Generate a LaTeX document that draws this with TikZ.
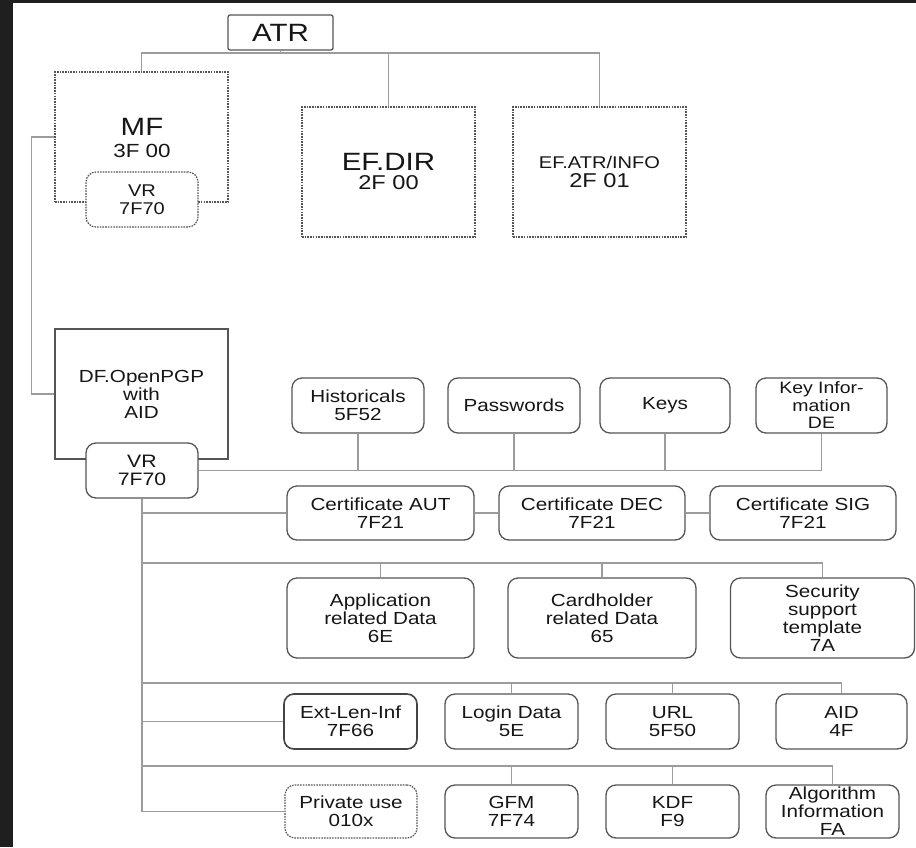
\documentclass[tikz,border=0pt]{standalone}
\usepackage{fontspec}
\setmainfont{Liberation Sans}[FakeStretch=1.18]
\definecolor{linec}{HTML}{9C9C9C}
\definecolor{boxc}{HTML}{555555}
\definecolor{textc}{HTML}{161616}
\definecolor{darkbg}{HTML}{1F1F1F}
\newcommand\fs{\fontsize{17.5}{18}\selectfont}
\tikzset{
  box/.style={draw=boxc, line width=1.3pt, fill=white, text=textc, align=center, inner sep=0pt, font=\fs},
  rbox/.style={box, rounded corners=10pt},
  dashbox/.style={box, dash pattern=on 1.6pt off 1.1pt, line width=1.2pt},
  conn/.style={draw=linec, line width=1.4pt},
  lbl/.style={text=textc, inner sep=0pt},
}
\begin{document}
\begin{tikzpicture}[x=1pt, y=-1pt]
\useasboundingbox (0,0) rectangle (916,847);
\fill[darkbg] (0,0) rectangle (916,847);
\fill[white] (13,3) rectangle (916,847);

% top level
\node[box, rounded corners=2pt, minimum width=105, minimum height=35, font=\fontsize{25}{25}\selectfont] (atr) at (280.5,32.5) {ATR};
\node[dashbox, minimum width=173, minimum height=130] (mf) at (141.5,137) {};
\node[lbl, font=\fontsize{25}{25}\selectfont] (mft) at (142,127) {MF};
\node[lbl, font=\fontsize{19}{19}\selectfont] (mfc) at (142,151) {3F 00};
\node[rbox, dash pattern=on 1.6pt off 1.1pt, line width=1.2pt, minimum width=112, minimum height=55, font=\fontsize{17}{18}\selectfont] (vra) at (142,199.5) {VR\\7F70};

\node[dashbox, minimum width=173, minimum height=130] (efdir) at (388.5,172) {};
\node[lbl, font=\fontsize{25}{25}\selectfont] (efdirt) at (388.5,162) {EF.DIR};
\node[lbl, font=\fontsize{20}{20}\selectfont] (efdirc) at (388.5,183) {2F 00};

\node[dashbox, minimum width=173, minimum height=130] (efatr) at (599.5,172) {};
\node[lbl, font=\fontsize{17}{17}\selectfont] (efatrt) at (599.5,162) {EF.ATR/INFO};
\node[lbl, font=\fontsize{20}{20}\selectfont] (efatrc) at (599.5,181) {2F 01};

% DF
\node[box, minimum width=173, minimum height=130] (df) at (141.5,394) {DF.OpenPGP\\with\\AID};
\node[rbox, minimum width=112, minimum height=55, font=\fontsize{18}{18}\selectfont] (vrb) at (142,470.5) {VR\\7F70};

% row 1
\node[rbox, minimum width=132, minimum height=55] (hist) at (358,405.5) {Historicals\\5F52};
\node[rbox, minimum width=132, minimum height=55] (pass) at (514,405.5) {Passwords};
\node[rbox, minimum width=130, minimum height=55] (keys) at (665,405.5) {Keys};
\node[rbox, minimum width=131, minimum height=55, font=\fontsize{16.5}{17.5}\selectfont] (kinfo) at (821.5,405.5) {Key Infor-\\mation\\DE};

% row 2
\node[rbox, minimum width=187, minimum height=54] (caut) at (380.5,513) {Certificate AUT\\7F21};
\node[rbox, minimum width=186, minimum height=54] (cdec) at (592,513) {Certificate DEC\\7F21};
\node[rbox, minimum width=186, minimum height=54] (csig) at (803,513) {Certificate SIG\\7F21};

% row 3
\node[rbox, minimum width=187, minimum height=80] (app) at (380.5,618) {Application\\related Data\\6E};
\node[rbox, minimum width=188, minimum height=80] (card) at (602,618) {Cardholder\\related Data\\65};
\node[rbox, minimum width=184, minimum height=80] (sec) at (822.5,618) {Security\\support\\template\\7A};

% row 4
\node[rbox, minimum width=133, minimum height=55, line width=1.6pt, draw=boxc!80!black] (ext) at (350.5,721.5) {Ext-Len-Inf\\7F66};
\node[rbox, minimum width=133, minimum height=55] (login) at (511.5,721.5) {Login Data\\5E};
\node[rbox, minimum width=133, minimum height=55] (url) at (672.5,721.5) {URL\\5F50};
\node[rbox, minimum width=131, minimum height=55] (aid) at (841.5,721.5) {AID\\4F};

% row 5
\node[rbox, dash pattern=on 1.6pt off 1.1pt, line width=1.2pt, minimum width=132, minimum height=53] (priv) at (351,811.5) {Private use\\010x};
\node[rbox, minimum width=133, minimum height=53] (gfm) at (511.5,811.5) {GFM\\7F74};
\node[rbox, minimum width=133, minimum height=53] (kdf) at (672.5,811.5) {KDF\\F9};
\node[rbox, minimum width=133, minimum height=53] (algo) at (832.5,811.5) {Algorithm\\Information\\FA};

% bus coordinates
\coordinate (tb) at (142,53);
\coordinate (b2) at (142,563);
\coordinate (b3) at (142,683);
\coordinate (b4) at (142,766);

% top connectors
\draw[conn] (atr.south) -- (atr.south |- tb);
\draw[conn] (mf.north) -- (mf.north |- tb) -| (efatr.north);
\draw[conn] (efdir.north) -- (efdir.north |- tb);
\draw[conn] (mf.west) -- ++(-23,0) |- (df.west);

% bus 1
\draw[conn] (vrb.east) -- (vrb.east -| kinfo.south) -- (kinfo.south);
\draw[conn] (hist.south) -- (hist.south |- vrb.east);
\draw[conn] (pass.south) -- (pass.south |- vrb.east);
\draw[conn] (keys.south) -- (keys.south |- vrb.east);

% trunk
\draw[conn] (vrb.south) |- (priv.west);
\draw[conn] (vrb.south |- caut.west) -- (caut.west);
\draw[conn] (caut.east) -- (cdec.west);
\draw[conn] (cdec.east) -- (csig.west);

% bus 2
\draw[conn] (b2) -| (sec.north);
\draw[conn] (app.north) -- (app.north |- b2);
\draw[conn] (card.north) -- (card.north |- b2);

% bus 3
\draw[conn] (b3) -| (aid.north);
\draw[conn] (login.north) -- (login.north |- b3);
\draw[conn] (url.north) -- (url.north |- b3);
\draw[conn] (vrb.south |- ext.west) -- (ext.west);

% bus 4
\draw[conn] (b4) -| (algo.north);
\draw[conn] (gfm.north) -- (gfm.north |- b4);
\draw[conn] (kdf.north) -- (kdf.north |- b4);
\end{tikzpicture}
\end{document}
